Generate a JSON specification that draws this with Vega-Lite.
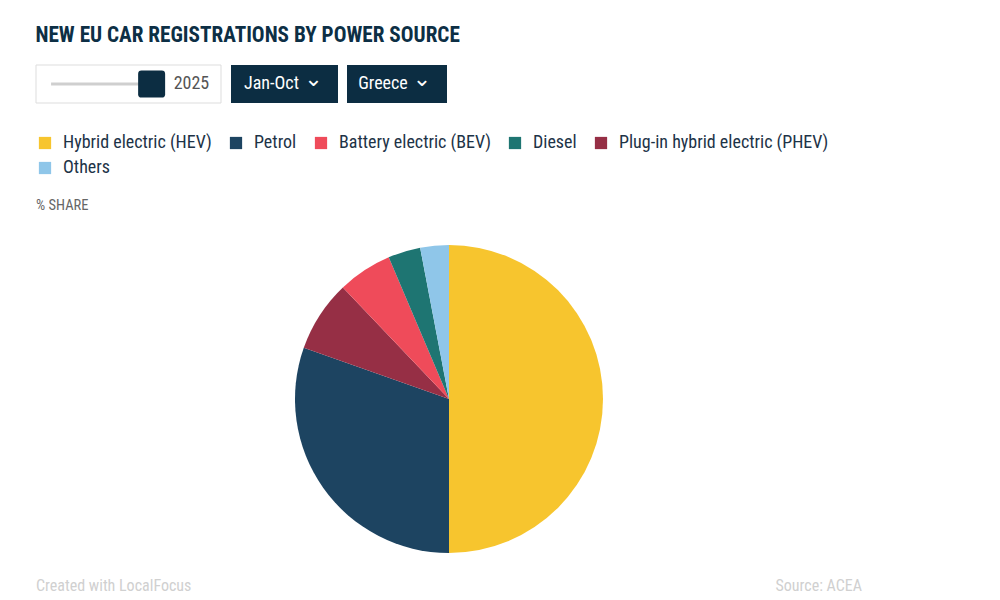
{
  "$schema": "https://vega.github.io/schema/vega-lite/v6.json",
  "background": "white",
  "padding": {"left": 35, "top": 25, "right": 10, "bottom": 5},
  "title": {"text": "NEW EU CAR REGISTRATIONS BY POWER SOURCE", "anchor": "start", "fontSize": 21.2, "font": "Roboto Condensed", "fontWeight": "bold", "color": "#0d2f45", "offset": 18},
  "config": {"view": {"stroke": null}, "font": "Roboto Condensed"},
  "resolve": {"scale": {"color": "independent"}, "legend": {"color": "independent"}},
  "spacing": 30,
  "vconcat": [
    {
      "spacing": 9,
      "hconcat": [
        {
          "width": 185, "height": 38,
          "data": {"values": [{"from": 2015, "year": 2025, "label": "2025"}]},
          "layer": [
            {"mark": {"type": "rect", "fill": "white", "stroke": "#dddddd", "strokeWidth": 1}, "encoding": {}},
            {"mark": {"type": "rule", "stroke": "#cfcfcf", "strokeWidth": 3},
             "encoding": {"x": {"field": "from", "type": "quantitative", "scale": {"domain": [2013.5, 2031.9], "zero": false, "nice": false}, "axis": null}, "x2": {"field": "year"}}},
            {"mark": {"type": "point", "shape": "M-1,-0.75 Q-1,-1 -0.75,-1 L0.75,-1 Q1,-1 1,-0.75 L1,0.75 Q1,1 0.75,1 L-0.75,1 Q-1,1 -1,0.75 Z", "filled": true, "fill": "#0c2d42", "opacity": 1, "size": 729, "strokeWidth": 0},
             "encoding": {"x": {"field": "year", "type": "quantitative"}}},
            {"mark": {"type": "text", "align": "left", "dx": 22, "fontSize": 18, "color": "#555555"},
             "encoding": {"x": {"field": "year", "type": "quantitative"}, "text": {"field": "label"}}}
          ]
        },
        {
          "width": 107, "height": 38,
          "data": {"values": [{"label": "Jan-Oct"}]},
          "layer": [
            {"mark": {"type": "rect", "fill": "#0c2d42"}, "encoding": {}},
            {"mark": {"type": "text", "color": "white", "fontSize": 18, "dx": -13}, "encoding": {"text": {"field": "label"}}},
            {"mark": {"type": "text", "color": "white", "fontSize": 22, "font": "DejaVu Sans", "dx": 29, "dy": -5}, "encoding": {"text": {"value": "⌄"}}}
          ]
        },
        {
          "width": 100, "height": 38,
          "data": {"values": [{"label": "Greece"}]},
          "layer": [
            {"mark": {"type": "rect", "fill": "#0c2d42"}, "encoding": {}},
            {"mark": {"type": "text", "color": "white", "fontSize": 18, "dx": -14}, "encoding": {"text": {"field": "label"}}},
            {"mark": {"type": "text", "color": "white", "fontSize": 22, "font": "DejaVu Sans", "dx": 25, "dy": -5}, "encoding": {"text": {"value": "⌄"}}}
          ]
        }
      ]
    },
    {
      "spacing": 23,
      "resolve": {"scale": {"color": "independent"}, "legend": {"color": "independent"}},
      "vconcat": [
        {
          "width": 826, "height": 310,
          "data": {"values": [
            {"source": "Hybrid electric (HEV)", "share": 50.0, "ord": 1},
            {"source": "Petrol", "share": 30.4, "ord": 2},
            {"source": "Plug-in hybrid electric (PHEV)", "share": 7.5, "ord": 3},
            {"source": "Battery electric (BEV)", "share": 5.7, "ord": 4},
            {"source": "Diesel", "share": 3.4, "ord": 5},
            {"source": "Others", "share": 3.0, "ord": 6}
          ]},
          "mark": {"type": "arc", "outerRadius": 154},
          "encoding": {
            "theta": {"field": "share", "type": "quantitative", "stack": true},
            "order": {"field": "ord", "type": "quantitative"},
            "color": {
              "field": "source", "type": "nominal",
              "scale": {
                "domain": ["Hybrid electric (HEV)", "Petrol", "Battery electric (BEV)", "Diesel", "Plug-in hybrid electric (PHEV)", "Others"],
                "range": ["#f7c52e", "#1d4461", "#ef4b5a", "#1e7572", "#962f45", "#8fc6e9"]
              },
              "legend": {
                "orient": "top", "columns": 5, "title": "% SHARE", "titleOrient": "bottom", "titleAnchor": "start",
                "titleFontSize": 14.5, "titleFontWeight": "normal", "titleColor": "#666666", "titlePadding": 22,
                "labelFontSize": 18, "labelColor": "#1d3347", "labelOffset": 9, "labelLimit": 400,
                "symbolType": "square", "symbolSize": 150, "symbolStrokeWidth": 0, "symbolOpacity": 1,
                "columnPadding": 15, "rowPadding": 7, "offset": 31
              }
            }
          }
        },
        {
          "width": 826, "height": 3,
          "data": {"values": [{"pos": "left", "label": "Created with LocalFocus"}, {"pos": "right", "label": "Source:  ACEA"}]},
          "encoding": {"x": {"field": "pos", "type": "nominal", "scale": {"type": "point", "padding": 0}, "axis": null}, "text": {"field": "label"}},
          "layer": [
            {"transform": [{"filter": "datum.pos == 'left'"}], "mark": {"type": "text", "align": "left", "color": "#d0d0d0", "fontSize": 16}},
            {"transform": [{"filter": "datum.pos == 'right'"}], "mark": {"type": "text", "align": "right", "color": "#d0d0d0", "fontSize": 16}}
          ]
        }
      ]
    }
  ]
}
